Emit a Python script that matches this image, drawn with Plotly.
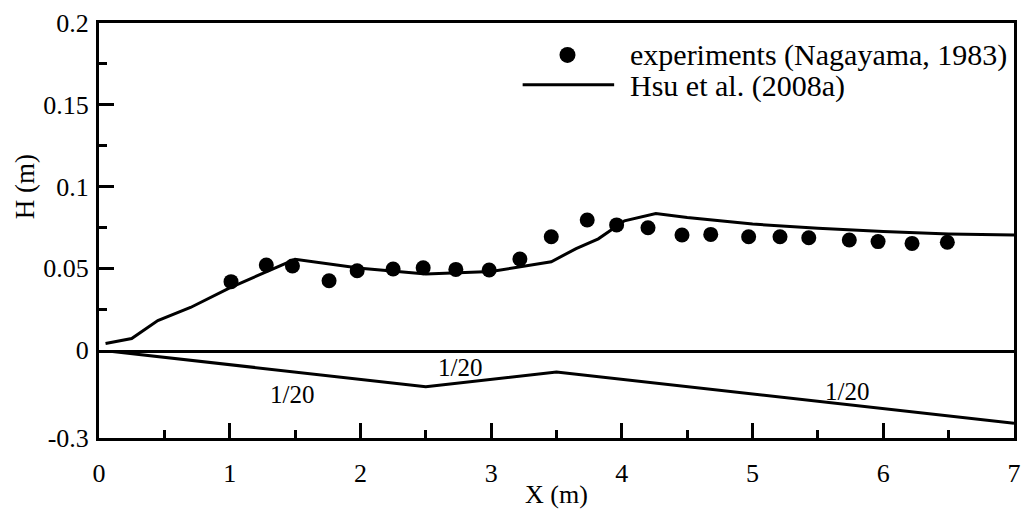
import plotly.graph_objects as go

# Experimental wave height (Nagayama, 1983)
exp_x = [1.01, 1.28, 1.48, 1.76, 1.975, 2.25, 2.48, 2.73, 2.985, 3.22, 3.46, 3.735,
         3.96, 4.20, 4.46, 4.68, 4.97, 5.21, 5.43, 5.74, 5.96, 6.22, 6.49]
exp_h = [0.0418, 0.0520, 0.0514, 0.0424, 0.0485, 0.0495, 0.0503, 0.0493, 0.0489, 0.0557,
         0.0693, 0.0795, 0.0765, 0.0748, 0.0703, 0.0707, 0.0693, 0.0693, 0.0687, 0.0673,
         0.0663, 0.0652, 0.0659]

# Model result Hsu et al. (2008a)
mod_x = [0.05, 0.25, 0.45, 0.70, 1.00, 1.25, 1.50, 2.00, 2.50, 3.00, 3.46, 3.65, 3.82,
         4.02, 4.26, 4.50, 5.00, 5.50, 6.00, 6.50, 7.00]
mod_h = [0.004, 0.007, 0.018, 0.026, 0.038, 0.047, 0.0555, 0.050, 0.0465, 0.048, 0.054,
         0.062, 0.068, 0.079, 0.0835, 0.081, 0.077, 0.0745, 0.0725, 0.071, 0.0703]

# Bottom profile
bed_x = [0.0, 2.5, 3.5, 7.0]
bed_z = [0.0, -0.125, -0.075, -0.25]

slope_labels = ["1/20", "1/20", "1/20"]
slope_x = [1.48, 2.76, 5.72]
slope_z = [-0.153, -0.061, -0.143]

h_ticks = [0, 0.05, 0.1, 0.15, 0.2]
h_ticktext = ["0", "0.05", "0.1", "0.15", "0.2"]

FONT = "Liberation Serif, Times New Roman, serif"
LW = 3

fig = go.Figure()
fig.add_trace(go.Scatter(x=mod_x, y=mod_h, mode="lines", xaxis="x2", yaxis="y",
                         line=dict(color="black", width=LW), showlegend=False))
fig.add_trace(go.Scatter(x=exp_x, y=exp_h, mode="markers", xaxis="x2", yaxis="y",
                         marker=dict(color="black", size=15), showlegend=False))
fig.add_trace(go.Scatter(x=bed_x, y=bed_z, mode="lines", xaxis="x", yaxis="y2",
                         line=dict(color="black", width=LW), showlegend=False))

for t, xx, zz in zip(slope_labels, slope_x, slope_z):
    fig.add_annotation(x=xx, y=zz, xref="x", yref="y2", text=t, showarrow=False,
                       font=dict(family=FONT, size=25, color="black"))

# Legend (drawn manually to match the long line sample)
fig.add_shape(type="circle", xref="paper", yref="paper", xsizemode="pixel", ysizemode="pixel",
              xanchor=0.512, yanchor=0.923, x0=-8, x1=8, y0=-8, y1=8,
              fillcolor="black", line=dict(color="black", width=0))
fig.add_shape(type="line", xref="paper", yref="paper", x0=0.463, x1=0.563, y0=0.851, y1=0.851,
              line=dict(color="black", width=LW))
fig.add_annotation(x=0.578, y=0.923, xref="paper", yref="paper", xanchor="left", yanchor="middle",
                   text="experiments (Nagayama, 1983)", showarrow=False,
                   font=dict(family=FONT, size=30, color="black"))
fig.add_annotation(x=0.578, y=0.848, xref="paper", yref="paper", xanchor="left", yanchor="middle",
                   text="Hsu et al. (2008a)", showarrow=False,
                   font=dict(family=FONT, size=30, color="black"))

lower_frac = 88 / 415
tickfont = dict(family=FONT, size=26, color="black")
titlefont = dict(family=FONT, size=27, color="black")

# X-axis title placed just under the tick labels
fig.add_annotation(x=0.5, y=-0.137, xref="paper", yref="paper", xanchor="center",
                   yanchor="middle", text="X (m)", showarrow=False,
                   font=dict(family=FONT, size=26, color="black"))

fig.update_layout(
    width=1021, height=511,
    margin=dict(l=99, r=7, t=23, b=73, autoexpand=False),
    paper_bgcolor="white", plot_bgcolor="white",
    font=dict(family=FONT, color="black"),
    xaxis=dict(anchor="y2", domain=[0, 1], range=[0, 7], dtick=1, tick0=0,
               ticks="inside", ticklen=15, tickwidth=2.5, tickcolor="black",
               minor=dict(ticks="inside", dtick=0.5, tick0=0, ticklen=8, tickwidth=2.5,
                          tickcolor="black"),
               showline=True, linecolor="black", linewidth=LW, mirror=False,
               showgrid=False, zeroline=False, tickfont=tickfont, ticklabelstandoff=10,
               ticklabeloverflow="allow", automargin=False),
    xaxis2=dict(anchor="y", matches="x", range=[0, 7], showticklabels=False, ticks="",
                showline=True, linecolor="black", linewidth=LW, mirror=True,
                showgrid=False, zeroline=False, automargin=False),
    yaxis=dict(anchor="x2", domain=[lower_frac, 1], range=[0, 0.2],
               tickvals=h_ticks, ticktext=h_ticktext,
               ticks="inside", ticklen=15, tickwidth=2.5, tickcolor="black",
               minor=dict(ticks="inside", dtick=0.025, tick0=0, ticklen=8, tickwidth=2.5,
                          tickcolor="black"),
               showline=True, linecolor="black", linewidth=LW, mirror=True,
               showgrid=False, zeroline=False, tickfont=tickfont, ticklabelstandoff=2,
               ticklabeloverflow="allow", automargin=False,
               title=dict(text="H (m)", font=titlefont, standoff=1)),
    yaxis2=dict(anchor="x", domain=[0, lower_frac], range=[-0.3, 0],
                tickvals=[-0.3], ticktext=["-0.3"], ticks="",
                showline=True, linecolor="black", linewidth=LW, mirror=True,
                showgrid=False, zeroline=False, tickfont=tickfont, ticklabelstandoff=2,
                ticklabeloverflow="allow", automargin=False),
)

fig.write_html("out.html")
